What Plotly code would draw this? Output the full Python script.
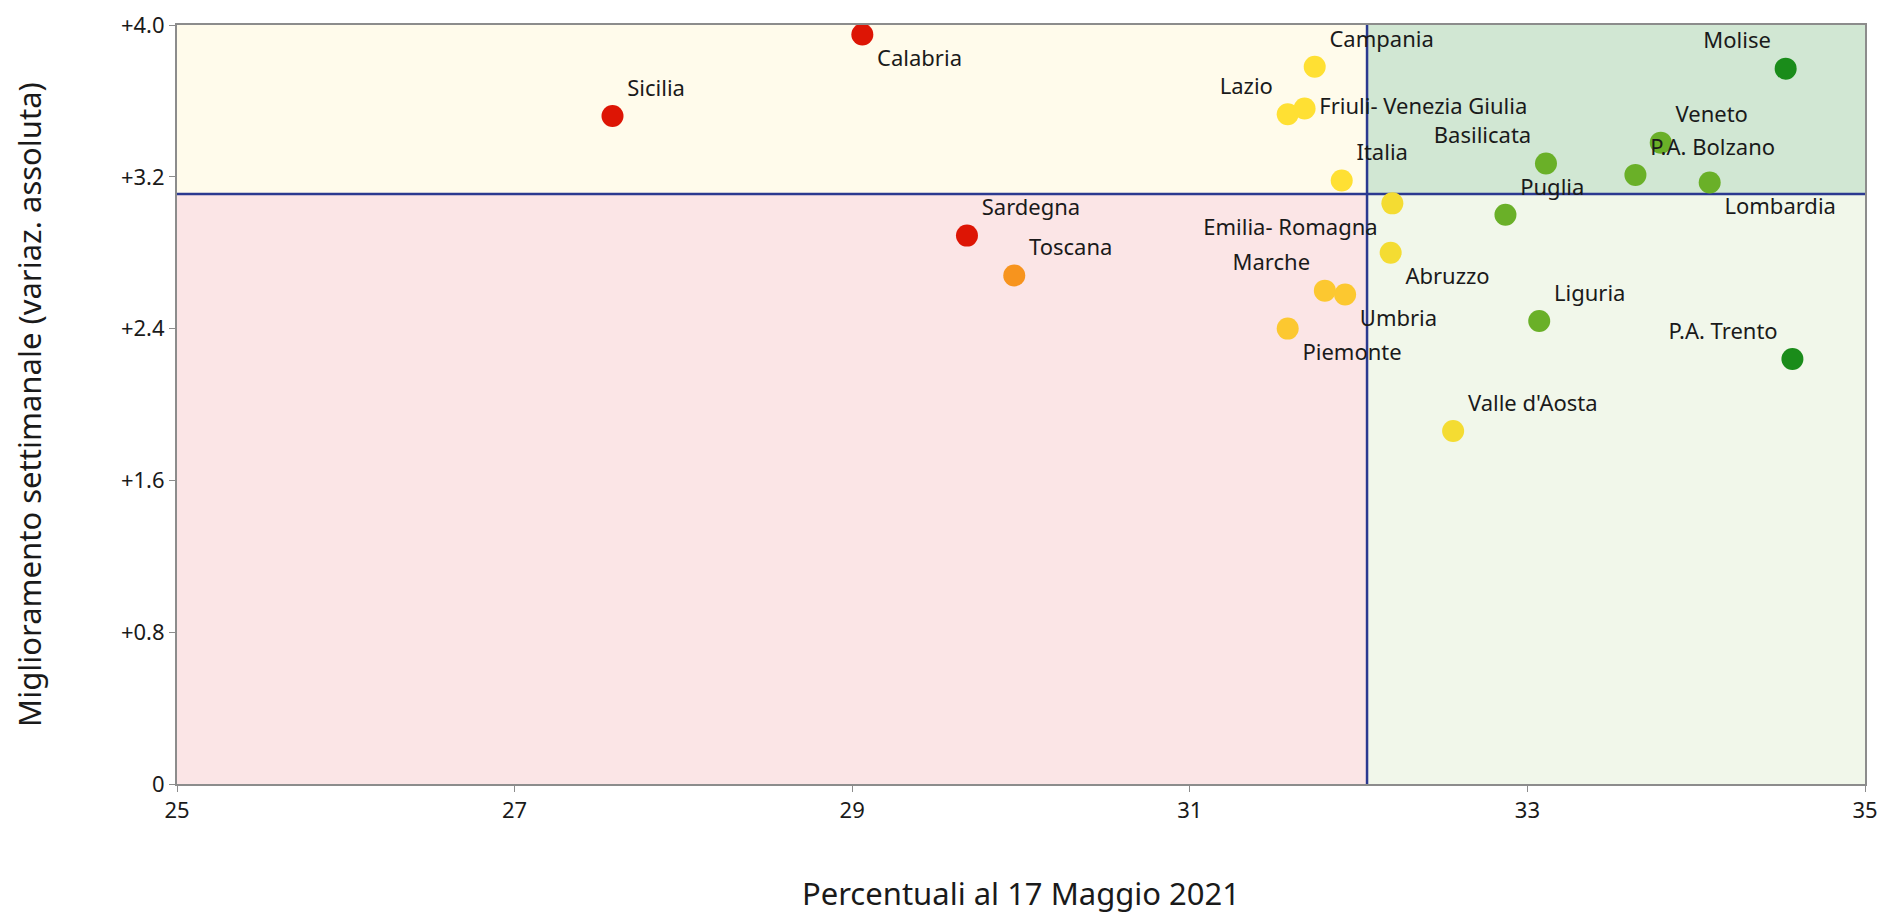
import plotly.graph_objects as go

regions = ["Sicilia", "Calabria", "Sardegna", "Toscana", "Campania", "Lazio",
           "Friuli- Venezia Giulia", "Italia", "Emilia- Romagna", "Abruzzo",
           "Marche", "Umbria", "Piemonte", "Valle d'Aosta", "Molise", "Veneto",
           "Basilicata", "P.A. Bolzano", "Lombardia", "Puglia", "Liguria", "P.A. Trento"]
percent = [27.58, 29.06, 29.68, 29.96, 31.74, 31.58, 31.68, 31.90, 32.20, 32.19,
           31.80, 31.92, 31.58, 32.56, 34.53, 33.79, 33.11, 33.64, 34.08, 32.87, 33.07, 34.57]
improvement = [3.52, 3.95, 2.89, 2.68, 3.78, 3.53, 3.56, 3.18, 3.06, 2.80,
               2.60, 2.58, 2.40, 1.86, 3.77, 3.38, 3.27, 3.21, 3.17, 3.00, 2.44, 2.24]
colors = ["#DD1505", "#DD1505", "#DD1505", "#F7941E", "#FFE033", "#FFE033",
          "#FFE033", "#FFE033", "#F4DC32", "#F4DC32", "#FCC830", "#FCC830",
          "#FCC830", "#F4DC32", "#1A8C1A", "#6AB028", "#6AB028", "#6AB028",
          "#6AB028", "#6AB028", "#6AB028", "#1A8C1A"]
positions = ["top right", "bottom right", "top right", "top right", "top right",
             "top left", "middle right", "top right", "bottom left", "bottom right",
             "top left", "bottom right", "bottom right", "top right", "top left",
             "top right", "top left", "top right", "bottom right", "top right",
             "top right", "top left"]

x_threshold = 32.05
y_threshold = 3.11
x_range = [25, 35]
y_range = [0, 4.0]
x_ticks = [25, 27, 29, 31, 33, 35]
y_ticks = [0, 0.8, 1.6, 2.4, 3.2, 4.0]
y_ticktext = ["0", "+0.8", "+1.6", "+2.4", "+3.2", "+4.0"]

FONT = "Noto Sans"

fig = go.Figure()
fig.add_trace(go.Scatter(
    x=percent, y=improvement, mode="markers+text",
    text=regions, textposition=positions,
    textfont=dict(family=FONT, size=22, color="#1a1a1a"),
    marker=dict(size=22, color=colors, line=dict(width=0)),
    hoverinfo="skip", showlegend=False, cliponaxis=False,
))

quads = [
    (x_range[0], x_threshold, y_threshold, y_range[1], "#FFFBEB"),
    (x_threshold, x_range[1], y_threshold, y_range[1], "#D1E7D3"),
    (x_range[0], x_threshold, y_range[0], y_threshold, "#FBE5E6"),
    (x_threshold, x_range[1], y_range[0], y_threshold, "#F1F7EA"),
]
for x0, x1, y0, y1, c in quads:
    fig.add_shape(type="rect", x0=x0, x1=x1, y0=y0, y1=y1, xref="x", yref="y",
                  fillcolor=c, line=dict(width=0), layer="below")
fig.add_shape(type="line", x0=x_threshold, x1=x_threshold, y0=y_range[0], y1=y_range[1],
              xref="x", yref="y", line=dict(color="#2B3990", width=2.5), layer="below")
fig.add_shape(type="line", x0=x_range[0], x1=x_range[1], y0=y_threshold, y1=y_threshold,
              xref="x", yref="y", line=dict(color="#2B3990", width=2.5), layer="below")

fig.update_layout(
    width=1885, height=915,
    margin=dict(l=169, r=28, t=17, b=139),
    paper_bgcolor="white", plot_bgcolor="white",
    font=dict(family=FONT, size=22, color="#1a1a1a"),
    xaxis=dict(range=x_range, tickvals=x_ticks, showgrid=False, zeroline=False,
               showline=True, linecolor="#8c8c8c", linewidth=2, mirror=True,
               ticks="outside", ticklen=6, tickcolor="#8c8c8c", automargin=False,
               ticklabeloverflow="allow",
               tickfont=dict(family=FONT, size=22),
               title=dict(text="Percentuali al 17 Maggio 2021",
                          font=dict(family=FONT, size=31), standoff=60)),
    yaxis=dict(range=y_range, tickvals=y_ticks, ticktext=y_ticktext, showgrid=False,
               zeroline=False, showline=True, linecolor="#8c8c8c", linewidth=2, mirror=True,
               ticks="outside", ticklen=6, tickcolor="#8c8c8c", automargin=False,
               ticklabeloverflow="allow",
               tickfont=dict(family=FONT, size=22),
               title=dict(text="Miglioramento settimanale (variaz. assoluta)",
                          font=dict(family=FONT, size=31), standoff=75)),
)

fig.write_html("out.html")
